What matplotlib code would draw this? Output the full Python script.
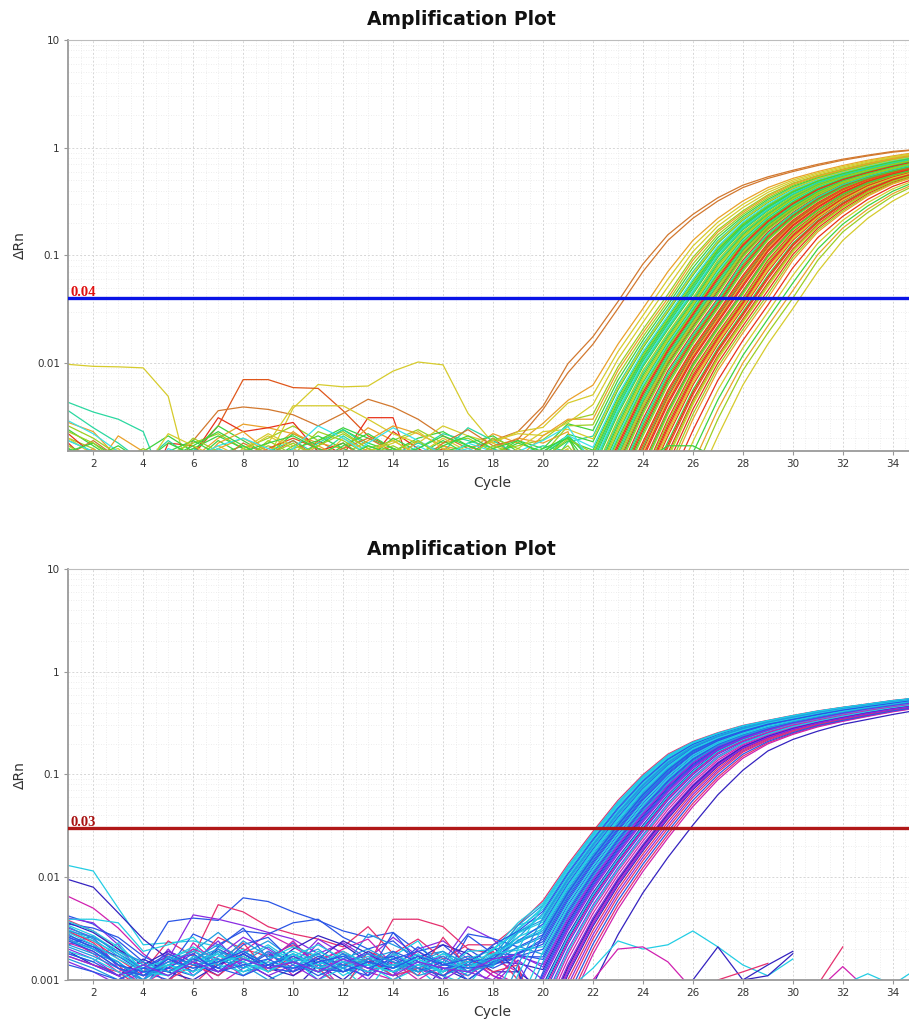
import numpy as np
import matplotlib.pyplot as plt
from matplotlib.ticker import MultipleLocator, LogLocator, FuncFormatter, NullFormatter

cycles = np.arange(1, 36)

# amplification shape: dRn by cycles after threshold crossing
shape_offsets = list(range(-5, 14))
top_shape = [0.0003, 0.0009, 0.003, 0.0085, 0.019, 0.04, 0.09, 0.165, 0.25, 0.355,
             0.46, 0.545, 0.625, 0.71, 0.79, 0.86, 0.93, 0.97, 1.0]
bottom_shape = [0.0002, 0.0008, 0.0025, 0.0065, 0.0145, 0.03, 0.06, 0.105, 0.165, 0.215,
                0.26, 0.305, 0.34, 0.38, 0.42, 0.455, 0.49, 0.53, 0.56]

top_threshold = 0.04
bottom_threshold = 0.03

# threshold cycles per well
top_ct = [29.4, 27.15, 23.1, 25.3, 27.0, 25.2, 24.3, 24.9, 25.7, 25.4, 26.5, 24.5, 26.05, 26.7, 25.55, 25.1, 27.8, 25.75,
          23.3, 24.7, 25.0, 25.35, 25.5, 25.6, 25.8, 25.9, 26.0, 26.1,
          26.2, 26.25, 26.3, 26.4, 26.55, 26.6, 26.8, 26.85, 26.9, 27.1,
          27.2, 27.3, 27.4, 27.5, 27.55, 27.6, 27.7, 27.9, 28.0, 28.1,
          28.2, 28.3, 28.4, 28.5, 28.6, 28.7, 28.8, 28.9, 29.0, 29.2,
          29.6, 29.8, 30.0, 30.3,
          25.65, 25.85, 26.15, 26.35, 26.45, 26.65, 26.75, 27.05, 27.25, 27.45, 27.65, 27.85, 28.05, 28.15, 28.25, 28.45, 28.65]
top_codes = "ydotrgaltgrytagldg" + "oyayclcglg" + "ygclgtrglg" + "rlrgryrlrr" + "argdryrlar" + "galy" + "gtlgrgltgdrglryrl"

bottom_ct = [22.3, 23.6, 24.6, 23.0, 22.1, 24.2, 23.4, 25.2, 22.5, 22.8, 24.9, 24.4, 23.2, 24.0, 22.6, 25.0, 23.8, 22.9,
             22.4, 25.3, 24.7, 22.7, 23.5, 23.1, 24.8, 22.95,
             22.15, 22.2, 22.25, 22.35, 22.45, 22.55, 22.65, 22.75, 22.85, 23.05,
             23.15, 23.3, 23.35, 23.55, 23.7, 23.9, 24.1, 24.3, 24.5, 25.1, 25.9,
             22.2, 22.5, 22.7, 22.9, 23.25, 23.45, 23.65, 23.75, 23.95, 24.05, 24.25, 24.55, 24.65]
bottom_codes = "cnmbkpbkcs" + "pmbnckpbsm" + "ncpbks" + "cscbcsbcsb" + "csbpbnbmpb" + "n" + "cscbcsbpcmcnp"

top_palette = {"o": "#d2782e", "d": "#e0561a", "r": "#e8321a", "a": "#eaa12a", "y": "#d6cb2c",
               "l": "#9ccf22", "g": "#3ed23e", "t": "#2ad8a0", "c": "#3ae2e8"}
bottom_palette = {"c": "#22cde4", "s": "#1e9be0", "b": "#2a55e6", "n": "#3422c0",
                  "p": "#8a2be2", "m": "#d020b0", "k": "#e5306e"}

# baseline noise of the first wells, cycles 1.., in units of 0.001
top_noise = [
    [9.7, 9.3, 9.2, 9.0, 4.9, 0.6, 0.5, 0.7, 1.3, 3.8, 6.3, 6.0, 6.1, 8.4, 10.2, 9.6, 3.4, 1.8, 1.4, 1.2, 1.6],
    [1.0, 0.8, 0.6, 0.5, 0.9, 1.4, 2.6, 7.0, 7.0, 5.9, 5.8, 3.6, 2.1, 1.6, 1.3, 1.0, 0.8, 1.1, 0.9, 0.7, 1.0],
    [1.2, 1.0, 0.7, 0.5, 0.8, 1.9, 3.6, 3.9, 3.7, 3.3, 2.6, 3.4, 4.6, 3.9, 3.0, 2.1, 1.6, 1.9, 1.5, 1.3, 2.2],
    [4.3, 3.5, 3.0, 2.3, 0.6, 0.9, 1.3, 1.1, 0.8, 1.2, 1.6, 1.3, 1.0, 1.4, 1.1, 0.9, 1.2, 1.6, 1.1, 0.9, 1.2],
    [1.8, 1.1, 0.6, 0.5, 1.8, 1.7, 0.8, 1.0, 1.3, 1.1, 1.9, 1.4, 3.1, 3.1, 0.7, 0.9, 1.3, 0.8, 1.2, 0.9, 1.1],
    [2.4, 1.7, 1.2, 1.5, 2.1, 1.5, 2.6, 1.9, 1.4, 2.2, 1.7, 2.4, 1.8, 1.5, 2.0, 2.3, 1.7, 1.4, 1.9, 1.6, 2.0],
    [2.8, 2.3, 1.3, 1.1, 0.8, 1.3, 2.0, 2.7, 2.5, 2.2, 1.8, 1.6, 2.5, 1.9, 1.4, 1.7, 1.5, 2.2, 1.8, 2.1, 2.4],
    [2.0, 1.6, 1.1, 0.9, 1.4, 1.8, 2.2, 1.6, 2.0, 2.6, 1.9, 2.3, 1.6, 1.9, 2.4, 1.8, 2.0, 1.5, 1.7, 1.6, 1.9],
    [3.6, 2.5, 1.8, 1.2, 1.9, 1.3, 1.6, 1.2, 1.5, 1.9, 1.4, 2.1, 1.5, 1.2, 1.6, 2.2, 1.9, 1.6, 1.3, 1.5, 1.7],
    [1.6, 1.2, 0.8, 1.1, 1.5, 1.2, 1.9, 1.4, 1.2, 1.7, 2.1, 1.6, 1.3, 2.0, 1.5, 1.3, 1.8, 2.1, 1.5, 1.2, 1.6],
    [2.2, 1.4, 0.8, 0.6, 1.0, 1.4, 3.1, 2.3, 2.5, 2.8, 1.5, 1.8, 1.2, 2.3, 1.6, 1.2, 1.4, 2.0, 1.3, 1.0, 1.5],
    [1.4, 1.1, 1.5, 1.2, 0.9, 1.3, 1.7, 1.3, 1.8, 4.0, 4.0, 4.0, 3.0, 2.2, 1.8, 2.6, 2.1, 1.8, 2.3, 2.0, 2.6],
    [1.9, 1.5, 1.0, 0.8, 1.2, 1.6, 1.3, 1.1, 1.4, 1.3, 1.8, 2.4, 1.7, 1.4, 1.8, 1.5, 2.5, 1.9, 1.4, 1.7, 1.5],
    [1.3, 1.0, 2.1, 1.5, 1.0, 1.2, 1.6, 2.0, 1.5, 2.3, 1.6, 1.4, 1.9, 2.6, 2.2, 1.7, 1.3, 1.6, 2.0, 1.8, 2.3],
    [1.1, 0.9, 0.7, 1.0, 1.3, 1.6, 2.1, 1.6, 1.3, 1.5, 1.2, 1.7, 2.2, 1.6, 1.4, 1.9, 1.4, 1.2, 1.5, 1.3, 1.4],
    [2.6, 2.0, 1.4, 1.0, 1.2, 1.0, 1.5, 1.3, 1.7, 1.4, 2.3, 1.9, 1.4, 1.7, 1.3, 1.6, 1.2, 1.5, 1.2, 1.4, 1.8],
    [1.5, 1.2, 0.9, 0.6, 0.8, 1.1, 1.5, 1.2, 1.6, 2.0, 1.6, 1.3, 1.0, 1.4, 1.2, 1.6, 1.3, 1.0, 1.2, 1.0, 1.3],
    [1.7, 1.3, 1.0, 1.2, 1.5, 1.9, 1.4, 1.7, 1.3, 1.6, 1.9, 2.5, 2.0, 1.6, 1.3, 1.5, 1.7, 1.4, 1.8, 1.5, 1.7],
    [1.4, 1.9, 1.3, 0.9, 1.1, 1.5, 1.2, 1.8, 1.4, 1.9, 1.3, 1.6, 2.0, 1.5, 1.2, 1.8, 2.4, 1.7, 1.3, 1.6, 1.9],
    [2.0, 1.4, 1.6, 1.0, 2.2, 1.7, 1.3, 1.5, 2.1, 1.6, 1.2, 2.0, 1.5, 1.8, 2.3, 1.6, 1.4, 1.9, 2.2, 1.7, 1.5],
    [1.2, 1.6, 1.0, 0.7, 1.3, 1.0, 1.8, 2.3, 1.5, 1.2, 1.7, 1.3, 1.6, 1.2, 1.9, 1.4, 1.1, 1.5, 1.3, 1.8, 2.1],
    [1.7, 1.2, 0.9, 1.3, 1.0, 1.4, 1.1, 1.6, 2.2, 1.7, 1.4, 1.1, 1.5, 1.9, 1.4, 2.0, 1.5, 1.2, 1.6, 2.3, 1.8],
    [2.9, 2.2, 1.5, 1.1, 1.5, 1.2, 1.6, 1.3, 1.1, 1.6, 2.6, 2.0, 1.4, 1.2, 1.7, 1.3, 1.8, 1.5, 1.1, 1.4, 1.6],
    [1.3, 1.0, 1.2, 1.6, 1.2, 2.0, 1.5, 1.2, 1.9, 1.4, 1.7, 2.2, 1.6, 1.3, 1.1, 1.5, 1.3, 2.0, 1.6, 1.3, 1.5],
    [1.9, 1.5, 1.1, 0.8, 1.6, 1.3, 1.7, 2.0, 1.6, 1.3, 1.5, 1.2, 1.8, 2.5, 1.9, 1.4, 1.6, 1.3, 1.5, 1.9, 2.2],
    [1.5, 1.8, 1.3, 1.0, 1.3, 1.7, 2.3, 1.7, 1.3, 1.1, 1.4, 1.8, 1.3, 1.6, 1.2, 1.7, 2.1, 1.6, 1.9, 1.4, 1.7],
    [2.3, 1.8, 1.2, 1.4, 1.0, 1.2, 1.5, 1.1, 1.4, 1.8, 1.3, 1.5, 1.2, 1.5, 1.9, 1.3, 1.2, 1.7, 1.4, 1.2, 1.4],
    [1.6, 1.3, 1.7, 1.2, 1.8, 1.4, 1.2, 1.5, 1.8, 2.1, 1.6, 1.3, 1.7, 1.4, 1.6, 2.1, 1.7, 1.4, 1.2, 1.6, 2.0],
]

bottom_noise = [
    [13, 11.5, 5, 2.2, 2.3, 2.4, 2.1, 1.6, 1.4, 1.8, 1.2, 0.9, 1.5, 1.1, 1.3, 0.8, 1.2, 1.0, 1.4],
    [9.5, 8, 4.5, 2.5, 1.6, 1.2, 2.0, 1.5, 1.1, 0.8, 1.4, 1.0, 1.6, 1.2, 0.7, 1.3, 1.0, 1.5, 1.1],
    [6.5, 5, 3.2, 1.8, 1.2, 1.6, 0.9, 1.3, 1.9, 1.1, 1.5, 0.8, 1.2, 1.0, 1.4, 1.1, 0.7, 1.2, 0.9],
    [4.2, 3.5, 2.4, 1.5, 3.7, 4.0, 3.8, 6.3, 5.8, 4.6, 3.8, 3.0, 2.6, 2.9, 1.9, 2.2, 1.4, 1.2, 1.0],
    [3.8, 3.0, 2.0, 1.2, 2.4, 1.7, 5.4, 4.6, 3.3, 2.8, 2.5, 2.1, 3.3, 1.8, 2.5, 1.6, 2.2, 1.5, 1.2],
    [4.0, 3.6, 2.2, 1.1, 1.6, 4.3, 3.9, 3.4, 2.9, 2.5, 1.8, 2.3, 1.6, 2.6, 1.7, 1.5, 3.3, 2.5, 1.4],
    [3.5, 3.2, 2.6, 1.7, 1.3, 2.8, 2.2, 3.0, 2.8, 3.6, 3.9, 2.6, 2.0, 2.4, 1.5, 1.0, 2.7, 1.8, 1.3],
    [3.0, 2.3, 1.4, 0.8, 1.8, 1.4, 2.6, 2.0, 1.7, 2.2, 1.6, 1.9, 1.4, 3.9, 3.9, 3.3, 2.0, 1.8, 1.5],
    [3.9, 3.9, 3.6, 1.9, 2.2, 2.6, 1.5, 2.0, 1.2, 1.6, 1.0, 1.3, 0.8, 1.7, 2.4, 1.1, 0.9, 1.3, 2.0],
    [2.8, 2.0, 1.5, 0.9, 1.4, 1.9, 2.9, 1.8, 2.4, 1.6, 2.0, 1.3, 2.8, 2.2, 1.7, 1.9, 1.2, 1.7, 1.3],
    [3.2, 2.6, 1.3, 1.0, 2.0, 1.1, 1.7, 2.6, 2.0, 1.4, 2.5, 1.8, 1.3, 1.1, 2.0, 2.4, 1.6, 1.1, 0.9],
    [2.5, 1.8, 1.2, 1.5, 0.9, 2.3, 1.4, 1.9, 2.8, 2.1, 1.5, 2.0, 2.5, 1.4, 1.9, 1.3, 1.1, 1.6, 1.2],
    [2.2, 2.7, 1.8, 1.3, 1.7, 1.2, 2.1, 3.2, 1.6, 2.3, 1.4, 1.8, 1.1, 2.9, 1.5, 1.2, 2.0, 1.4, 1.1],
    [3.6, 2.9, 2.0, 1.4, 1.9, 1.5, 1.1, 1.8, 1.3, 2.0, 2.7, 2.2, 1.5, 1.2, 1.6, 2.2, 1.8, 1.2, 1.0],
    [1.8, 1.5, 2.3, 1.2, 1.6, 2.0, 1.3, 1.6, 2.2, 1.5, 1.2, 1.7, 1.4, 1.0, 1.3, 1.8, 1.5, 1.0, 1.6],
    [2.9, 2.4, 1.6, 1.1, 1.4, 0.9, 1.5, 2.3, 1.2, 1.7, 1.3, 0.8, 1.9, 1.5, 1.1, 2.6, 1.3, 1.9, 1.0],
    [2.0, 1.6, 1.1, 0.8, 1.9, 1.5, 2.4, 1.3, 1.9, 1.2, 2.3, 1.5, 1.0, 1.8, 1.3, 1.0, 1.4, 0.9, 1.3],
    [2.6, 2.1, 1.7, 1.2, 1.0, 1.7, 1.3, 2.2, 2.6, 1.5, 1.1, 1.4, 1.9, 1.3, 2.1, 1.4, 2.8, 2.3, 1.2],
    [1.6, 1.3, 1.0, 1.4, 1.1, 1.6, 2.0, 1.4, 1.0, 1.3, 1.8, 1.2, 1.6, 1.9, 1.2, 1.5, 1.1, 1.3, 1.0],
    [2.3, 1.9, 1.3, 0.9, 1.3, 2.0, 1.6, 1.1, 1.5, 2.4, 1.3, 1.6, 1.2, 1.5, 1.0, 1.4, 1.7, 1.1, 0.8],
    [1.9, 1.4, 1.1, 1.6, 1.2, 1.0, 1.4, 1.8, 1.3, 1.1, 1.6, 2.4, 1.8, 1.3, 1.7, 1.2, 1.5, 2.1, 1.2],
    [2.4, 2.0, 1.5, 1.0, 1.5, 1.3, 1.8, 1.1, 1.6, 2.1, 1.7, 1.1, 1.5, 1.3, 1.8, 1.1, 1.4, 1.2, 1.5],
    [1.5, 1.2, 0.9, 1.2, 1.5, 1.8, 1.2, 1.5, 1.1, 1.4, 1.0, 1.5, 1.8, 1.2, 1.4, 1.7, 1.2, 1.0, 1.3],
    [2.7, 2.2, 1.4, 1.1, 1.3, 1.1, 1.6, 1.3, 1.8, 1.3, 1.5, 1.3, 1.1, 1.6, 1.2, 1.5, 1.0, 1.5, 1.1],
    [1.7, 1.4, 1.2, 0.8, 1.0, 1.4, 1.1, 1.7, 1.2, 1.5, 1.2, 1.4, 1.6, 1.1, 1.3, 1.1, 1.6, 1.2, 1.4],
    [3.3, 2.5, 1.7, 1.3, 1.1, 1.5, 1.9, 1.2, 1.4, 1.8, 1.4, 1.2, 1.4, 1.7, 1.1, 1.3, 1.2, 1.5, 1.2],
    [3.4, 2.7, 1.9, 1.3, 1.6, 2.1, 1.5, 1.9, 1.4, 1.7, 2.2, 1.6, 1.3, 1.8, 1.4, 1.2, 1.6, 1.3, 1.5],
    [2.1, 1.7, 1.3, 1.0, 1.4, 1.2, 1.9, 1.5, 2.1, 1.4, 1.2, 1.6, 2.0, 1.5, 1.2, 1.7, 1.3, 1.1, 1.4],
    [2.9, 2.2, 1.6, 1.2, 1.1, 1.7, 1.4, 1.2, 1.6, 1.9, 1.5, 1.3, 1.7, 1.3, 1.6, 1.2, 1.9, 1.4, 1.2],
    [1.8, 1.5, 1.1, 1.3, 1.8, 1.4, 1.2, 1.8, 1.3, 1.2, 1.7, 1.4, 1.2, 1.9, 1.5, 1.3, 1.4, 1.7, 1.3],
    [3.7, 3.0, 2.1, 1.4, 1.2, 1.5, 1.8, 1.3, 1.5, 1.3, 1.9, 1.5, 1.4, 1.2, 1.7, 1.5, 1.2, 1.6, 1.4],
    [2.5, 2.0, 1.4, 1.1, 1.5, 1.9, 1.4, 2.4, 1.7, 1.5, 1.3, 1.8, 1.5, 1.3, 1.5, 1.9, 1.4, 1.2, 1.6],
    [1.4, 1.2, 1.0, 1.3, 1.2, 1.6, 1.3, 1.1, 1.4, 1.7, 1.3, 1.2, 1.5, 1.7, 1.3, 1.1, 1.5, 1.3, 1.2],
    [3.1, 2.4, 1.8, 1.2, 1.4, 1.2, 1.5, 1.7, 1.2, 1.6, 1.4, 1.9, 1.4, 1.2, 1.4, 1.8, 1.3, 1.5, 1.3],
    [2.2, 1.8, 1.5, 1.0, 1.7, 1.4, 1.6, 1.3, 1.9, 1.5, 1.8, 1.3, 1.6, 1.4, 1.2, 1.4, 1.7, 1.2, 1.5],
    [2.6, 2.1, 1.4, 1.2, 1.3, 1.8, 1.2, 1.4, 1.6, 1.2, 1.5, 1.7, 1.3, 1.6, 1.9, 1.4, 1.3, 1.4, 1.1],
    [1.9, 1.6, 1.2, 0.9, 1.4, 1.1, 1.7, 1.5, 1.2, 1.8, 1.3, 1.5, 1.2, 1.4, 1.6, 1.2, 1.5, 1.8, 1.3],
    [3.0, 2.6, 1.9, 1.5, 1.2, 1.6, 2.2, 1.6, 1.3, 1.5, 1.2, 1.4, 1.8, 1.5, 1.3, 1.6, 1.2, 1.4, 1.6],
    [2.4, 1.9, 1.3, 1.1, 1.6, 1.3, 1.5, 1.9, 1.4, 1.3, 1.6, 1.2, 1.5, 1.3, 1.7, 1.4, 1.6, 1.3, 1.2],
    [1.7, 1.4, 1.1, 1.4, 1.1, 1.5, 1.2, 1.6, 1.3, 1.5, 1.2, 1.6, 1.3, 1.1, 1.5, 1.3, 1.2, 1.6, 1.4],
]

# wells that never amplify: first cycle, values (units of 0.001), colour code
top_ntc = [(24, [1.2, 1.7, 1.7, 1.3], "g")]
bottom_ntc = [
    (21, [0.8, 1.3, 2.4, 2.0, 2.2, 3.0, 2.1, 1.4, 1.1, 1.6], "c"),
    (22, [1.0, 2.0, 2.1, 1.5, 0.8], "m"),
    (25, [0.7, 1.0, 2.1, 1.0, 1.1, 1.8], "n"),
    (31, [0.9, 2.1], "k"),
    (31, [0.8, 1.35, 0.8], "m"),
    (32, [0.9, 1.15, 0.9, 1.3], "c"),
    (27, [1.0, 1.2, 1.45], "k"),
    (28, [1.0, 1.4, 1.9], "n"),
]


def style_axes(ax, ymin):
    ax.set_yscale("log")
    ax.set_xlim(1, 35)
    ax.set_ylim(ymin, 10)
    ax.xaxis.set_major_locator(MultipleLocator(2))
    ax.xaxis.set_minor_locator(MultipleLocator(0.5))
    ax.yaxis.set_major_locator(LogLocator(base=10, numticks=10))
    ax.yaxis.set_minor_locator(LogLocator(base=10, subs=np.arange(2, 10), numticks=20))
    ax.yaxis.set_major_formatter(FuncFormatter(lambda v, p: f"{v:g}"))
    ax.yaxis.set_minor_formatter(NullFormatter())
    ax.grid(which="major", color="#d6d6d6", linestyle=(0, (2, 2)), linewidth=0.7)
    ax.grid(which="minor", color="#e8e8e8", linestyle=(0, (1, 2)), linewidth=0.6)
    ax.set_axisbelow(True)
    ax.tick_params(which="major", length=3, width=0.8, color="#999999", labelsize=7.5,
                   labelcolor="#333333", pad=3)
    ax.tick_params(which="minor", length=0)
    for side in ["left", "bottom"]:
        ax.spines[side].set_color("#9a9a9a")
        ax.spines[side].set_linewidth(1.3)
    ax.spines["top"].set_color("#bdbdbd")
    ax.spines["top"].set_linewidth(0.8)
    ax.spines["right"].set_visible(False)


def draw_wells(ax, ct_list, codes, palette, shape, noise, ntc):
    assert len(ct_list) == len(codes)
    log_shape = np.log10(shape)
    for i, (ct, code) in enumerate(zip(ct_list, codes)):
        amp = 10 ** np.interp(cycles - ct, shape_offsets, log_shape, left=-6)
        base = np.zeros(len(cycles))
        if i < len(noise):
            base[:len(noise[i])] = np.array(noise[i]) * 0.001
        ax.plot(cycles, amp + base, color=palette[code], linewidth=0.9, zorder=2)
    for start, vals, code in ntc:
        x = np.arange(start, start + len(vals))
        ax.plot(x, np.array(vals) * 0.001, color=palette[code], linewidth=0.9, zorder=2)


fig = plt.figure(figsize=(9.09, 10.19), dpi=100)

ax_top = fig.add_axes([0.0751, 0.5574, 0.9345, 0.4033])
style_axes(ax_top, 0.00152)
draw_wells(ax_top, top_ct, top_codes, top_palette, top_shape, top_noise, top_ntc)
ax_top.axhline(top_threshold, color="#0a14e6", linewidth=2.4, zorder=5)
ax_top.text(1.08, top_threshold * 0.98, "0.04", color="#e01010", fontsize=10.5, fontweight="bold",
            family="Liberation Serif", va="bottom", ha="left", zorder=6)

ax_bot = fig.add_axes([0.0751, 0.0383, 0.9345, 0.4033])
style_axes(ax_bot, 0.001)
draw_wells(ax_bot, bottom_ct, bottom_codes, bottom_palette, bottom_shape, bottom_noise, bottom_ntc)
ax_bot.axhline(bottom_threshold, color="#b01818", linewidth=2.4, zorder=5)
ax_bot.text(1.08, bottom_threshold * 0.98, "0.03", color="#a81010", fontsize=10.5, fontweight="bold",
            family="Liberation Serif", va="bottom", ha="left", zorder=6)

for y_title, y_cycle, y_drn in [(0.9804, 0.526, 0.7596), (0.4603, 0.0072, 0.2395)]:
    fig.text(0.508, y_title, "Amplification Plot", ha="center", va="center",
             fontsize=13.5, fontweight="bold", color="#111111")
    fig.text(0.542, y_cycle, "Cycle", ha="center", va="center", fontsize=10, color="#333333")
    fig.text(0.022, y_drn, "ΔRn", ha="center", va="center", rotation=90, fontsize=10, color="#333333")

fig.savefig("out.png", dpi=100)
